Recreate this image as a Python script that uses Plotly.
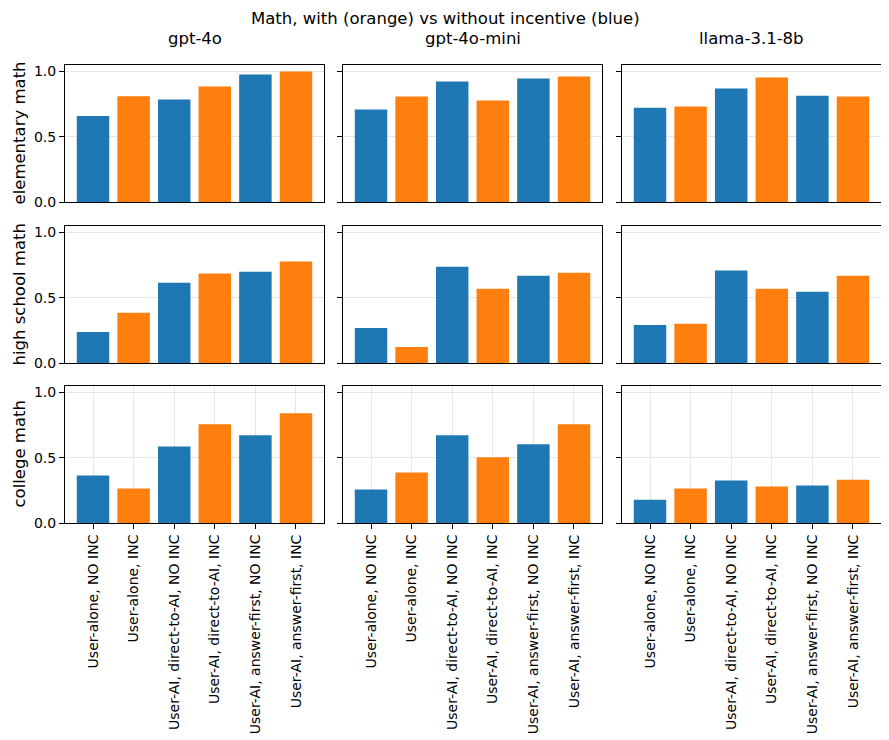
import plotly.graph_objects as go

# The page body adds an 8px margin, so draw on an (889-8)x(740-8) figure
# and express reference pixel positions shifted by that offset.
OFF = 8
W, H = 889 - OFF, 740 - OFF

models = ["gpt-4o", "gpt-4o-mini", "llama-3.1-8b"]
levels = ["elementary math", "high school math", "college math"]
conditions = [
    "User-alone, NO INC",
    "User-alone, INC",
    "User-AI, direct-to-AI, NO INC",
    "User-AI, direct-to-AI, INC",
    "User-AI, answer-first, NO INC",
    "User-AI, answer-first, INC",
]
incentive = [False, True, False, True, False, True]

# accuracy values [level][model]
elementary_gpt4o = [0.66, 0.81, 0.785, 0.885, 0.977, 1.0]
elementary_mini = [0.708, 0.808, 0.923, 0.777, 0.946, 0.962]
elementary_llama = [0.723, 0.731, 0.869, 0.954, 0.815, 0.808]
highschool_gpt4o = [0.238, 0.385, 0.615, 0.685, 0.70, 0.777]
highschool_mini = [0.269, 0.123, 0.738, 0.569, 0.669, 0.692]
highschool_llama = [0.292, 0.30, 0.708, 0.569, 0.546, 0.669]
college_gpt4o = [0.364, 0.264, 0.587, 0.756, 0.672, 0.841]
college_mini = [0.256, 0.387, 0.672, 0.503, 0.603, 0.756]
college_llama = [0.179, 0.264, 0.326, 0.279, 0.287, 0.331]

values = [
    [elementary_gpt4o, elementary_mini, elementary_llama],
    [highschool_gpt4o, highschool_mini, highschool_llama],
    [college_gpt4o, college_mini, college_llama],
]

BLUE = "#1f77b4"
ORANGE = "#ff7f0e"
colors = [ORANGE if inc else BLUE for inc in incentive]

col_px = [(65, 324), (343, 602), (622, 881)]
row_px = [(65, 202), (226, 363), (386, 523)]


def px_x(p):
    return (p - OFF) / W


def px_y(p):
    return 1 - (p - OFF) / H


FONT = "DejaVu Sans"
GRID = "#e6e6e6"

fig = go.Figure()
layout = dict(
    width=W, height=H,
    margin=dict(l=0, r=0, t=0, b=0),
    paper_bgcolor="white", plot_bgcolor="white",
    showlegend=False, bargap=0.2,
    font=dict(family=FONT, size=14, color="black"),
)
annotations = []

for r in range(3):
    for c in range(3):
        idx = r * 3 + c + 1
        xa = "x" if idx == 1 else f"x{idx}"
        ya = "y" if idx == 1 else f"y{idx}"
        fig.add_trace(go.Bar(
            x=list(range(len(conditions))), y=values[r][c],
            marker=dict(color=colors, line=dict(width=0)),
            xaxis=xa, yaxis=ya, width=0.8,
        ))
        x0, x1 = col_px[c]
        y0, y1 = row_px[r]
        bottom = r == 2
        layout["xaxis" + ("" if idx == 1 else str(idx))] = dict(
            domain=[px_x(x0), px_x(x1)], anchor=ya,
            range=[-0.69, 5.69],
            tickmode="array", tickvals=list(range(len(conditions))),
            ticktext=conditions if bottom else [""] * 6,
            showticklabels=bottom, tickangle=-90,
            ticks="outside" if bottom else "", ticklen=5, tickwidth=1, tickcolor="black",
            showgrid=bottom, gridcolor=GRID, gridwidth=1,
            showline=True, mirror=True, linecolor="black", linewidth=1,
            zeroline=False, automargin=False,
            tickfont=dict(family=FONT, size=14, color="black"),
        )
        layout["yaxis" + ("" if idx == 1 else str(idx))] = dict(
            domain=[px_y(y1), px_y(y0)], anchor=xa,
            range=[0, 1.05],
            tickmode="array", tickvals=[0, 0.5, 1.0], ticktext=["0.0", "0.5", "1.0"],
            showticklabels=(c == 0),
            ticks="outside", ticklen=5, tickwidth=1, tickcolor="black",
            showgrid=True, gridcolor=GRID, gridwidth=1,
            showline=True, mirror=True, linecolor="black", linewidth=1,
            zeroline=False, automargin=False,
            tickfont=dict(family=FONT, size=14, color="black"),
        )

for c, m in enumerate(models):
    x0, x1 = col_px[c]
    annotations.append(dict(
        text=m, x=px_x((x0 + x1) / 2), y=px_y(39), xref="paper", yref="paper",
        showarrow=False, xanchor="center", yanchor="middle",
        font=dict(family=FONT, size=16.5, color="black"),
    ))

for r, lv in enumerate(levels):
    y0, y1 = row_px[r]
    annotations.append(dict(
        text=lv, x=px_x(19), y=px_y((y0 + y1) / 2), xref="paper", yref="paper",
        showarrow=False, xanchor="center", yanchor="middle", textangle=-90,
        font=dict(family=FONT, size=16.5, color="black"),
    ))

annotations.append(dict(
    text="Math, with (orange) vs without incentive (blue)",
    x=px_x(445), y=px_y(18), xref="paper", yref="paper",
    showarrow=False, xanchor="center", yanchor="middle",
    font=dict(family=FONT, size=16.5, color="black"),
))

layout["annotations"] = annotations
fig.update_layout(**layout)
fig.write_html("out.html")
